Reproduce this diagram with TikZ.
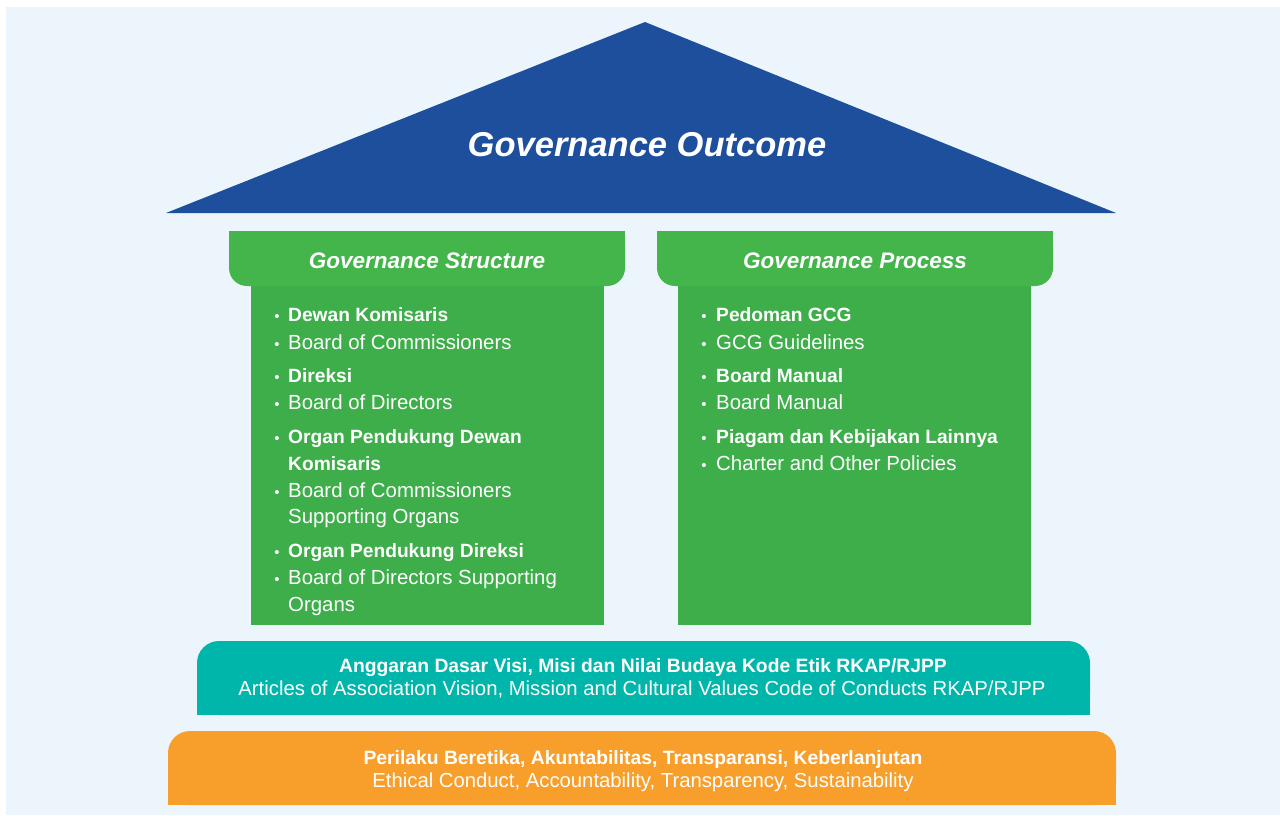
\documentclass[tikz,border=0pt]{standalone}
\usepackage{fontspec}
\setmainfont{Liberation Sans}
\usepackage{xcolor}
\definecolor{bgblue}{HTML}{EDF5FC}
\definecolor{roofblue}{HTML}{1E4F9C}
\definecolor{headgreen}{HTML}{44B54A}
\definecolor{pillgreen}{HTML}{3DAE4A}
\definecolor{bandteal}{HTML}{00B5AA}
\definecolor{bandorange}{HTML}{F89E2B}

\begin{document}
\begin{tikzpicture}[x=1pt, y=-1pt,
  every node/.style={inner sep=0pt, text=white},
  hd/.style={anchor=base, font=\fontsize{22.5}{28}\selectfont\bfseries\itshape},
  bf/.style={anchor=base west, font=\fontsize{19.2}{24}\selectfont\bfseries},
  it/.style={anchor=base west, font=\fontsize{20.4}{24}\selectfont},
  bu/.style={anchor=base, font=\fontsize{15}{18}\selectfont},
  bb/.style={anchor=base, font=\fontsize{19.3}{24}\selectfont\bfseries},
  bd/.style={anchor=base, font=\fontsize{20.3}{24}\selectfont}
]
\useasboundingbox (0,0) rectangle (1280,815);
\fill[bgblue] (6,7) rectangle (1280,815);

% Roof
\fill[roofblue] (166,213) -- (645,22) -- (1116,213) -- cycle;
\node[anchor=base, font=\fontsize{34.5}{40}\selectfont\bfseries\itshape] (outcome) at (647,156) {Governance Outcome};

% Pillar heads (rounded below only)
\fill[headgreen, rounded corners=18pt] (229,231) rectangle (625,286);
\fill[headgreen] (229,231) rectangle (625,260);
\fill[headgreen, rounded corners=18pt] (657,231) rectangle (1053,286);
\fill[headgreen] (657,231) rectangle (1053,260);
\node[hd] (structure) at (427,268) {Governance Structure};
\node[hd] (process) at (855,268) {Governance Process};

% Pillars
\fill[pillgreen] (251,286) rectangle (604,625);
\fill[pillgreen] (678,286) rectangle (1031,625);

% Left pillar
\node[bu] (sb1) at (277,321) {•};
\node[bf] (s1) at (288,321) {Dewan Komisaris};
\node[bu] (sb2) at (277,349) {•};
\node[it] (s2) at (288,349) {Board of Commissioners};
\node[bu] (sb3) at (277,382) {•};
\node[bf] (s3) at (288,382) {Direksi};
\node[bu] (sb4) at (277,409) {•};
\node[it] (s4) at (288,409) {Board of Directors};
\node[bu] (sb5) at (277,443) {•};
\node[bf] (s5) at (288,443) {Organ Pendukung Dewan};
\node[bf] (s5b) at (288,470) {Komisaris};
\node[bu] (sb6) at (277,497) {•};
\node[it] (s6) at (288,497) {Board of Commissioners};
\node[it] (s6b) at (288,523) {Supporting Organs};
\node[bu] (sb7) at (277,557) {•};
\node[bf] (s7) at (288,557) {Organ Pendukung Direksi};
\node[bu] (sb8) at (277,584) {•};
\node[it] (s8) at (288,584) {Board of Directors Supporting};
\node[it] (s8b) at (288,611) {Organs};

% Right pillar
\node[bu] (pb1) at (704,321) {•};
\node[bf] (p1) at (716,321) {Pedoman GCG};
\node[bu] (pb2) at (704,349) {•};
\node[it] (p2) at (716,349) {GCG Guidelines};
\node[bu] (pb3) at (704,382) {•};
\node[bf] (p3) at (716,382) {Board Manual};
\node[bu] (pb4) at (704,409) {•};
\node[it] (p4) at (716,409) {Board Manual};
\node[bu] (pb5) at (704,443) {•};
\node[bf] (p5) at (716,443) {Piagam dan Kebijakan Lainnya};
\node[bu] (pb6) at (704,470) {•};
\node[it] (p6) at (716,470) {Charter and Other Policies};

% Foundation bands (rounded above only)
\fill[bandteal, rounded corners=22pt] (197,641) rectangle (1090,715);
\fill[bandteal] (197,680) rectangle (1090,715);
\node[bb] (charter) at (643,672) {Anggaran Dasar Visi, Misi dan Nilai Budaya Kode Etik RKAP/RJPP};
\node[bd] (charteren) at (642,695) {Articles of Association Vision, Mission and Cultural Values Code of Conducts RKAP/RJPP};

\fill[bandorange, rounded corners=22pt] (168,731) rectangle (1116,805);
\fill[bandorange] (168,770) rectangle (1116,805);
\node[bb] (ethics) at (643,764) {Perilaku Beretika, Akuntabilitas, Transparansi, Keberlanjutan};
\node[bd] (ethicsen) at (643,787) {Ethical Conduct, Accountability, Transparency, Sustainability};
\end{tikzpicture}
\end{document}
